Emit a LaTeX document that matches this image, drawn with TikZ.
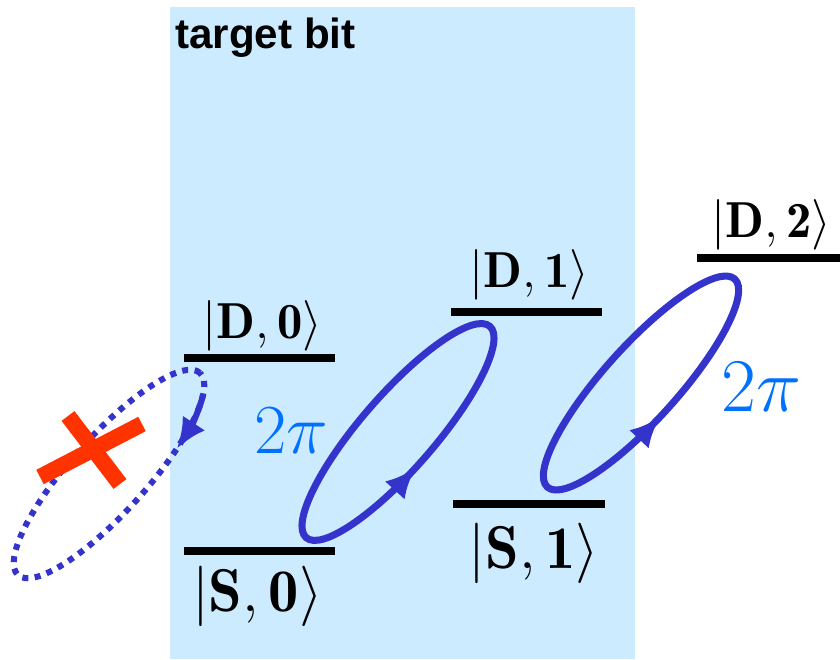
\RequirePackage{fix-cm}
\documentclass[tikz,border=0pt]{standalone}
\usepackage{amsmath}
\usepackage{fontspec}
\newfontfamily\labelfont{Liberation Sans}
\usetikzlibrary{positioning,calc,arrows.meta,decorations.markings}
\definecolor{loopblue}{RGB}{52,52,204}
\definecolor{phaseblue}{RGB}{0,112,255}
\definecolor{crossred}{RGB}{255,51,0}
\definecolor{bitblue}{RGB}{204,235,255}
\tikzset{LEVEL/.style={line width=5.7pt}}
\tikzset{KETD/.style={inner sep=0pt, font=\fontsize{36}{40}\selectfont}}
\tikzset{KETS/.style={inner sep=0pt, font=\fontsize{43}{48}\selectfont}}
\tikzset{LOOP/.style={draw=loopblue, line width=5pt}}
\tikzset{LOOPARROW/.style={postaction={decorate}, decoration={markings, mark=at position #1 with {\arrow{Latex[length=22pt,width=19pt]}}}}}
\tikzset{DOTTEDLOOP/.style={draw=loopblue, line width=4.3pt, dash pattern=on 4.3pt off 4.6pt}}
\tikzset{PHASE/.style={text=phaseblue, inner sep=0pt}}
\tikzset{CROSS/.style={draw=crossred, line width=11.5pt}}

\begin{document}
\begin{tikzpicture}[x=0.025cm,y=0.025cm]

\useasboundingbox (0,0) rectangle (840,659);
\fill[bitblue] (170,0) rectangle (635,652);
\node[anchor=base west, inner sep=0pt, font=\labelfont\bfseries\fontsize{30}{34}\selectfont] (n_target) at (175,610) {target bit};

\coordinate (c_d0) at (259.5,301);
\draw[LEVEL] ($(c_d0)+(-75.5,0)$) -- ($(c_d0)+(75.5,0)$);
\node[KETD, above=5pt of c_d0, xshift=2pt] (n_d0) {$|\mathbf{D},\mathbf{0}\rangle$};

\coordinate (c_s0) at (259.5,108);
\draw[LEVEL] ($(c_s0)+(-75.5,0)$) -- ($(c_s0)+(75.5,0)$);
\node[KETS, below=10.6pt of c_s0, xshift=-1.5pt] (n_s0) {$|\mathbf{S},\mathbf{0}\rangle$};

\coordinate (c_d1) at (526.5,347);
\draw[LEVEL] ($(c_d1)+(-75.5,0)$) -- ($(c_d1)+(75.5,0)$);
\node[KETD, above=8pt of c_d1, xshift=2pt] (n_d1) {$|\mathbf{D},\mathbf{1}\rangle$};

\coordinate (c_s1) at (529,155);
\draw[LEVEL] ($(c_s1)+(-76,0)$) -- ($(c_s1)+(76,0)$);
\node[KETS, below=13.5pt of c_s1, xshift=3.5pt] (n_s1) {$|\mathbf{S},\mathbf{1}\rangle$};

\coordinate (c_d2) at (768.5,401);
\draw[LEVEL] ($(c_d2)+(-71.5,0)$) -- ($(c_d2)+(75,0)$);
\node[KETD, above=5.7pt of c_d2, xshift=2pt] (n_d2) {$|\mathbf{D},\mathbf{2}\rangle$};

\coordinate (c_loop1) at (398,227);
\coordinate (c_loop2) at (641,276);
\coordinate (c_loop3) at (109,185);

\draw[LOOP, LOOPARROW=0.725, rotate around={49:(c_loop1)}] (c_loop1) ellipse [x radius=140, y radius=37];
\draw[LOOP, LOOPARROW=0.73, rotate around={48:(c_loop2)}] (c_loop2) ellipse [x radius=140, y radius=37];

\begin{scope}[shift={(c_loop3)}, rotate=48]
\draw[DOTTEDLOOP] (0,0) ellipse [x radius=136, y radius=38];
\draw[LOOP, line width=4.3pt, -{Latex[length=22pt,width=19pt]}] (-27:136 and 38) arc [start angle=-27, end angle=-62, x radius=136, y radius=38];
\end{scope}

\coordinate (c_x1a) at (68,243);
\coordinate (c_x1b) at (120,175);
\coordinate (c_x2a) at (40,182);
\coordinate (c_x2b) at (142,235);
\draw[CROSS] (c_x1a) -- (c_x1b);
\draw[CROSS] (c_x2a) -- (c_x2b);

\node[PHASE, font=\fontsize{50}{55}\selectfont] (n_phase1) at (291,228.5) {$2\pi$};
\node[PHASE, font=\fontsize{54}{60}\selectfont] (n_phase2) at (761.5,272) {$2\pi$};

\end{tikzpicture}
\end{document}
